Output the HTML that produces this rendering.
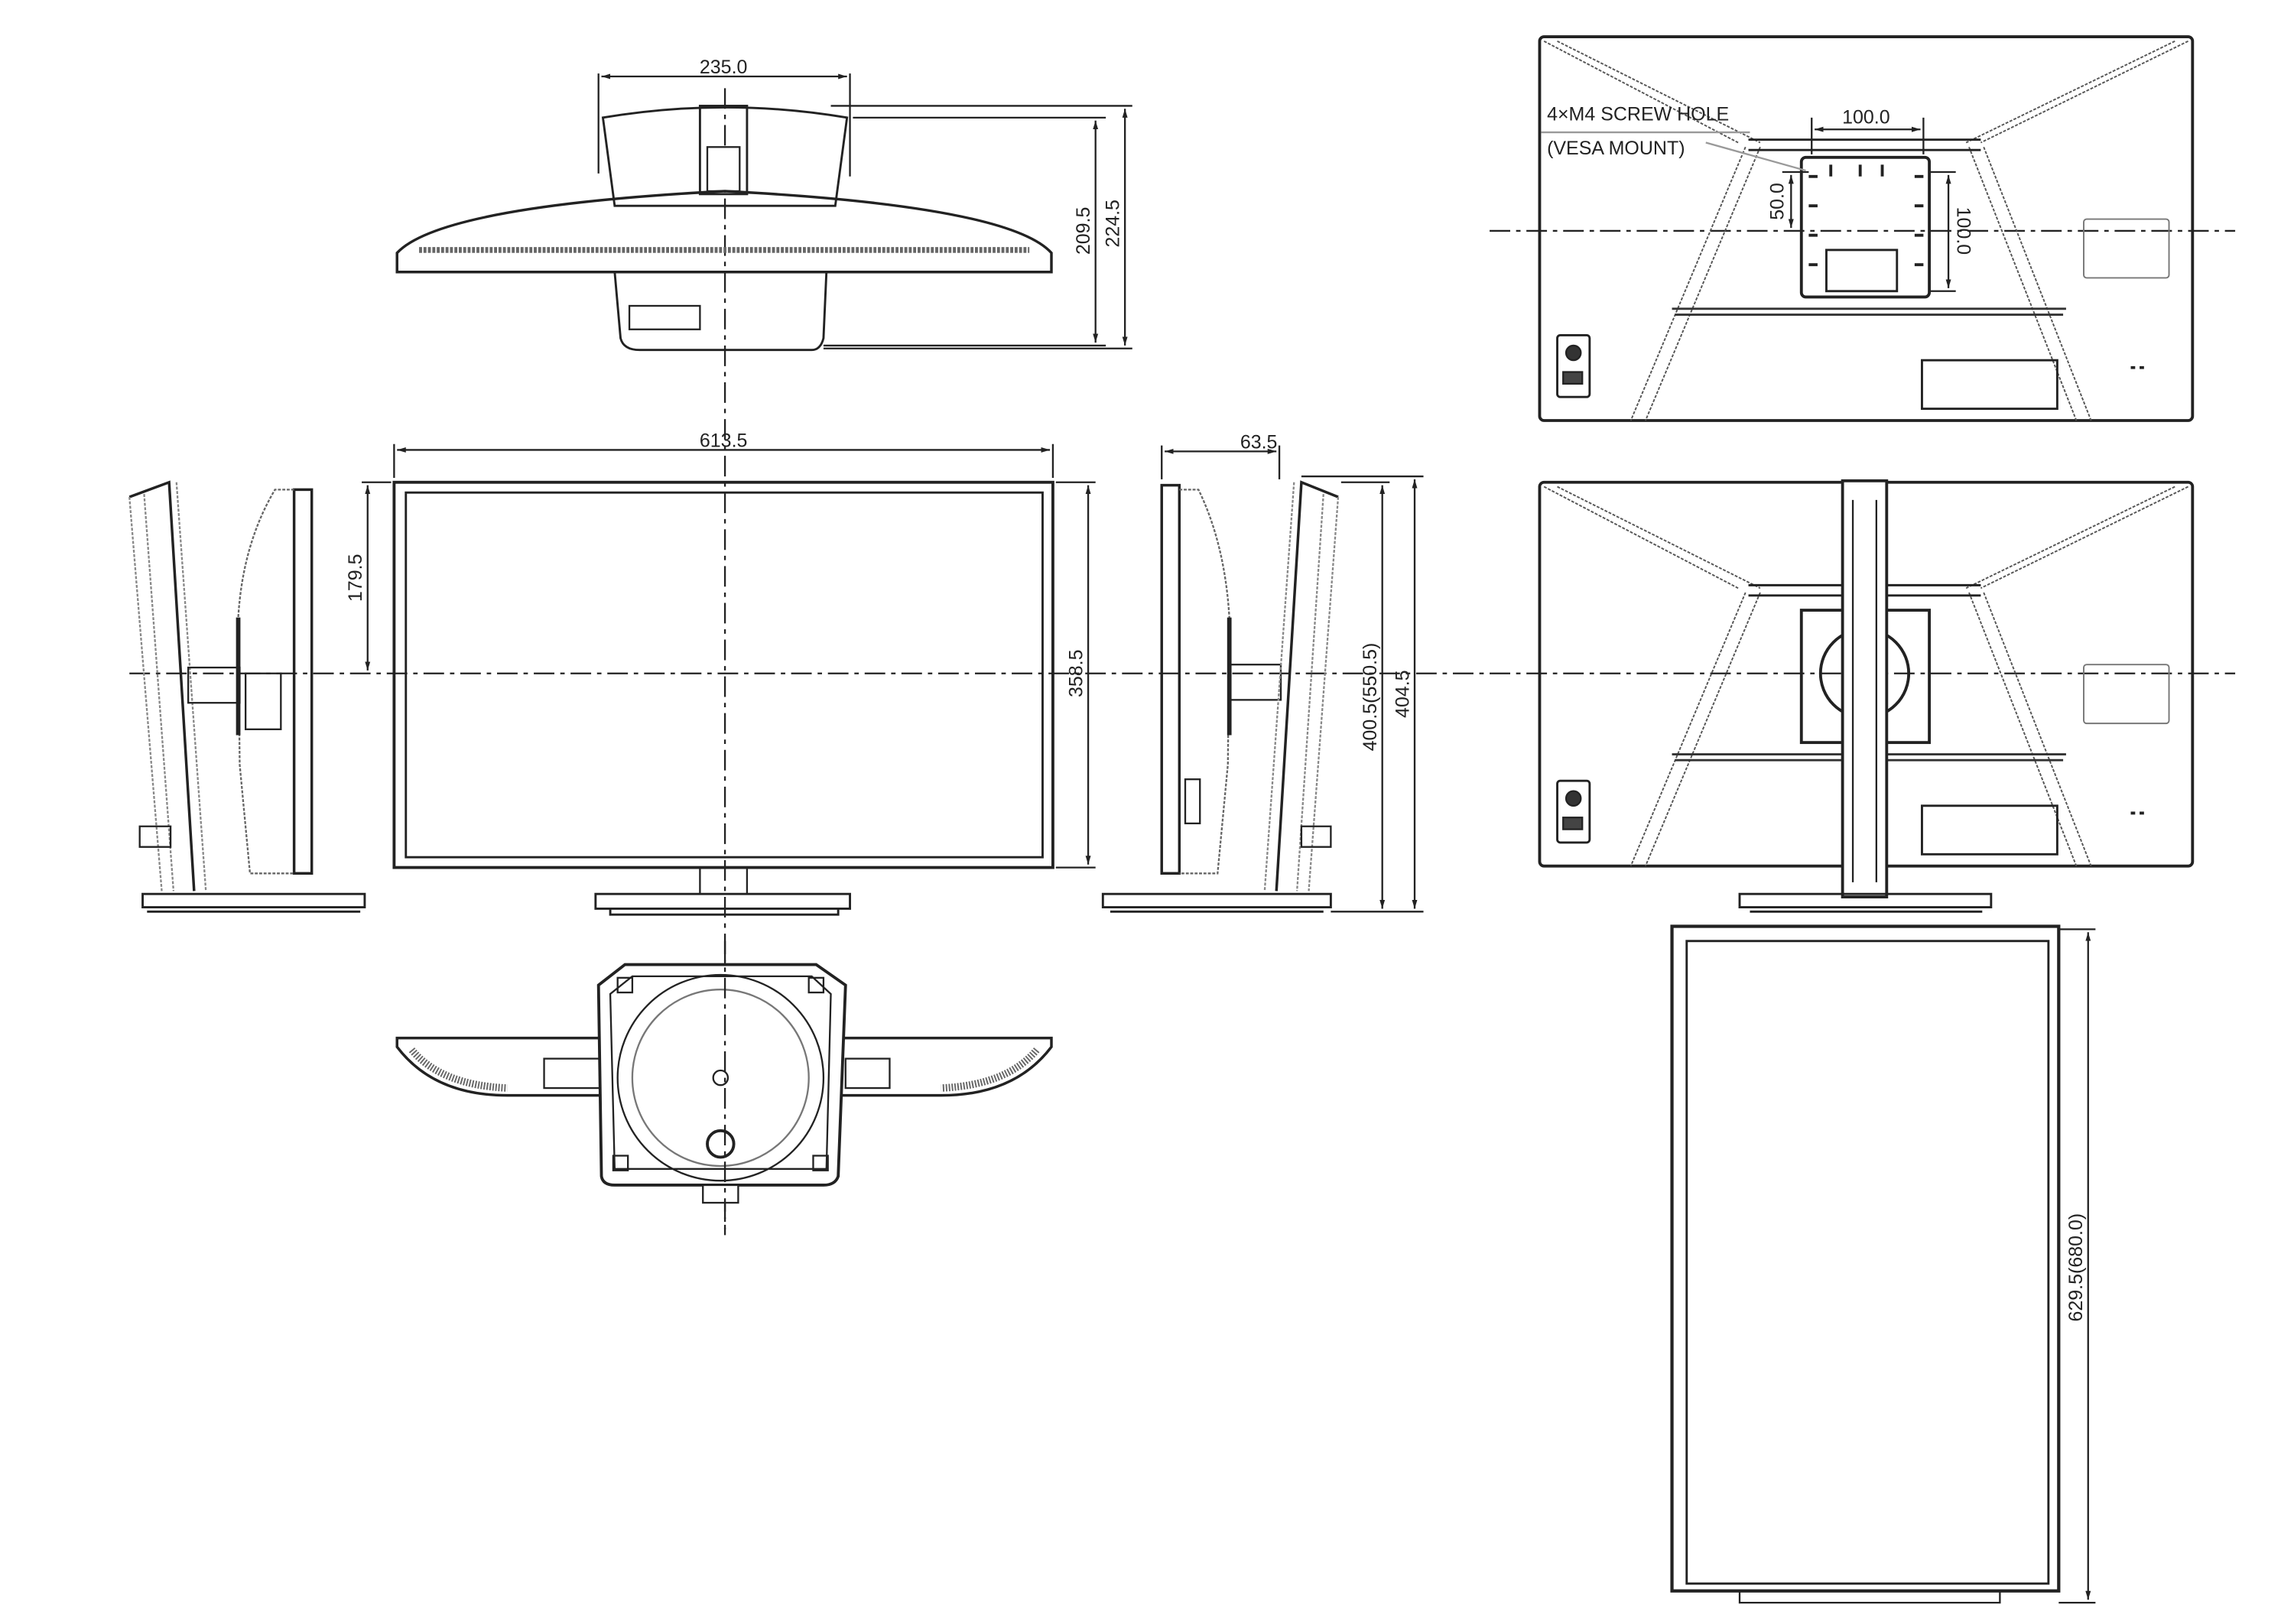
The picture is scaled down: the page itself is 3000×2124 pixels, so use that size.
<!DOCTYPE html>
<html><head><meta charset="utf-8"><style>
html,body{margin:0;padding:0;background:#fff}
svg{display:block}
text{font-family:"Liberation Sans",sans-serif;fill:#222;font-size:13px}
</style></head><body>
<svg width="3000" height="2124" viewBox="0 0 1560 1104.5" preserveAspectRatio="none" xmlns="http://www.w3.org/2000/svg">
<defs>
<marker id="a" viewBox="0 0 10 10" refX="10" refY="5" markerWidth="5" markerHeight="5" orient="auto-start-reverse"><path d="M0,2 L10,5 L0,8z" fill="#222"/></marker>
<g id="back">
 <rect x="0" y="0" width="444" height="261" rx="3" fill="none" stroke="#222" stroke-width="2"/>
 <g fill="none" stroke="#555" stroke-width="1" stroke-dasharray="2,1">
  <path d="M3,3 L135,72 M12,3 L150,72 M441,3 L300,72 M432,3 L290,72"/>
  <path d="M140,75 L62,261 M150,75 L72,261 M302,75 L375,261 M292,75 L365,261"/>
 </g>
 <path d="M142,70 H300 M142,77 H300" stroke="#222" stroke-width="1.5"/>
 <path d="M90,185 H358 M92,189 H356" stroke="#333" stroke-width="1.5"/>
 <rect x="260" y="220" width="92" height="33" fill="none" stroke="#222" stroke-width="1.5"/>
 <rect x="370" y="124" width="58" height="40" rx="2" fill="none" stroke="#777" stroke-width="1"/>
 <rect x="12" y="203" width="22" height="42" rx="2" fill="none" stroke="#222" stroke-width="1.5"/>
 <circle cx="23" cy="215" r="5" fill="#333"/>
 <rect x="16" y="228" width="13" height="8" fill="#444"/>
 <path d="M402,225 h3 M408,225 h3" stroke="#222" stroke-width="2"/>
</g>
</defs>
<g fill="none" stroke="#222" stroke-width="1.2">
<path d="M493,60 V840" stroke-dasharray="14,4,3,4"/>
<path d="M88,458 H1520" stroke-dasharray="14,4,3,4"/>
<path d="M1013,157 H1520" stroke-dasharray="14,4,3,4"/>

<path d="M410,80 Q493,66 576,80 L568,140 H418 Z" stroke-width="1.5"/>
<rect x="476" y="72" width="32" height="60" stroke-width="1.5"/>
<rect x="481" y="100" width="22" height="30" fill="#fff"/>
<path d="M270,172 Q300,140 493,130 Q686,140 715,172 V185 H270 Z" stroke-width="1.8"/>
<path d="M285,170 H700" stroke="#666" stroke-dasharray="2,1" stroke-width="4"/>
<path d="M418,185 L422,230 Q424,238 435,238 H552 Q558,238 560,230 L562,185" stroke-width="1.5"/>
<rect x="428" y="208" width="48" height="16"/>
<path d="M407,50 V118 M578,50 V120"/>
<path d="M409,52 H576" marker-start="url(#a)" marker-end="url(#a)"/>
<path d="M580,80 H752 M565,72 H770 M560,235 H752 M560,237 H770"/>
<path d="M745,82 V233" marker-start="url(#a)" marker-end="url(#a)"/>
<path d="M765,74 V235" marker-start="url(#a)" marker-end="url(#a)"/>

<rect x="268" y="328" width="448" height="262" stroke-width="2"/>
<rect x="276" y="335" width="433" height="248" stroke-width="1.5"/>
<rect x="476" y="590" width="32" height="18"/>
<path d="M405,608 H578 V618 H405 Z M415,618 V622 H570 V618" stroke-width="1.5"/>
<path d="M268,302 V325 M716,302 V325"/>
<path d="M270,306 H714" marker-start="url(#a)" marker-end="url(#a)"/>
<path d="M246,328 H266"/>
<path d="M250,330 V456" marker-start="url(#a)" marker-end="url(#a)"/>
<path d="M718,328 H745 M718,590 H745"/>
<path d="M740,330 V588" marker-start="url(#a)" marker-end="url(#a)"/>

<g stroke-width="1.2">
<path d="M88,338 L115,328 L132,606" stroke-width="1.8"/>
<path d="M88,338 L110,606 M98,336 L118,606 M120,328 L140,606" stroke="#888" stroke-dasharray="2,1"/>
<path d="M95,562 H116 V576 H95 Z"/>
<path d="M200,333 H212 V594 H200 Z M200,333 L200,594" stroke-width="1.8"/>
<path d="M200,333 H187 Q165,370 162,420 L163,520 L170,594 H200" stroke="#666" stroke-dasharray="2,1"/>
<path d="M162,420 V500" stroke-width="3"/>
<rect x="128" y="454" width="35" height="24"/>
<rect x="167" y="458" width="24" height="38"/>
<path d="M97,608 H248 V617 H97 Z M100,620 H245" stroke-width="1.5"/>
</g>

<g stroke-width="1.2">
<path d="M790,330 H802 V594 H790 Z" stroke-width="1.8"/>
<path d="M802,333 H815 Q833,370 836,420 L835,520 L828,594 H802" stroke="#666" stroke-dasharray="2,1"/>
<path d="M836,420 V500" stroke-width="3"/>
<rect x="836" y="452" width="35" height="24"/>
<rect x="806" y="530" width="10" height="30"/>
<path d="M910,338 L885,328 L868,606" stroke-width="1.8"/>
<path d="M910,338 L890,606 M900,336 L882,606 M880,328 L860,606" stroke="#888" stroke-dasharray="2,1"/>
<path d="M885,562 H905 V576 H885 Z"/>
<path d="M750,608 H905 V617 H750 Z M755,620 H900" stroke-width="1.5"/>
<path d="M790,303 V326 M870,303 V326"/>
<path d="M792,307 H868" marker-start="url(#a)" marker-end="url(#a)"/>
<path d="M885,324 H968 M912,328 H945 M905,620 H968"/>
<path d="M940,330 V618" marker-start="url(#a)" marker-end="url(#a)"/>
<path d="M962,326 V618" marker-start="url(#a)" marker-end="url(#a)"/>
</g>

<path d="M270,706 H715 V712 Q690,745 640,745 H345 Q295,745 270,712 Z" stroke-width="1.8"/>
<path d="M280,714 Q300,738 345,740 M705,714 Q685,738 640,740" stroke="#666" stroke-width="5" stroke-dasharray="1,1"/>
<rect x="370" y="720" width="45" height="20"/>
<rect x="575" y="720" width="30" height="20"/>
<path d="M425,656 H555 L575,670 L570,800 Q568,806 560,806 H418 Q410,806 409,800 L407,670 Z" stroke-width="2" fill="#fff"/>
<path d="M430,664 H552 L565,676 L562,795 H418 L415,676 Z"/>
<circle cx="490" cy="733" r="70"/>
<circle cx="490" cy="733" r="60" stroke="#777"/>
<circle cx="490" cy="733" r="5"/>
<circle cx="490" cy="778" r="9" stroke-width="2"/>
<rect x="420" y="665" width="10" height="10"/><rect x="550" y="665" width="10" height="10"/>
<rect x="417" y="786" width="10" height="10"/><rect x="553" y="786" width="10" height="10"/>
<rect x="478" y="806" width="24" height="12" fill="#fff"/>
<path d="M493,640 V840" stroke-dasharray="14,4,3,4"/>

<use href="#back" x="1047" y="25"/>
<use href="#back" x="1047" y="328"/>
<rect x="1225" y="107" width="87" height="95" rx="3" stroke-width="2"/>
<rect x="1242" y="170" width="48" height="28" stroke-width="1.5"/>
<path d="M1230,120 h6 M1230,140 h6 M1230,160 h6 M1230,180 h6 M1302,120 h6 M1302,140 h6 M1302,160 h6 M1302,180 h6 M1245,112 v8 M1265,112 v8 M1280,112 v8" stroke-width="2"/>
<path d="M1232,80 V105 M1308,80 V105"/>
<path d="M1234,88 H1306" marker-start="url(#a)" marker-end="url(#a)"/>
<path d="M1212,117 H1230 M1312,117 H1330 M1312,198 H1330"/>
<path d="M1218,119 V155" marker-start="url(#a)" marker-end="url(#a)"/>
<path d="M1325,119 V196" marker-start="url(#a)" marker-end="url(#a)"/>
<path d="M1048,90 H1190 M1160,97 L1228,116" stroke="#999"/>
<rect x="1225" y="415" width="87" height="90" stroke-width="2"/>
<circle cx="1268" cy="458" r="30" stroke-width="2"/>
<rect x="1253" y="327" width="30" height="283" fill="#fff" stroke-width="2"/>
<path d="M1260,340 V600 M1276,340 V600"/>
<path d="M1183,608 H1354 V617 H1183 Z M1190,620 H1348" stroke-width="1.5"/>

<rect x="1137" y="630" width="263" height="452" stroke-width="2.2"/>
<rect x="1147" y="640" width="246" height="437" stroke-width="1.5"/>
<path d="M1183,1082 H1360 V1090 H1183 Z"/>
<path d="M1400,632 H1425 M1400,1090 H1425"/>
<path d="M1420,634 V1088" marker-start="url(#a)" marker-end="url(#a)"/>
</g>

<text x="492" y="50" text-anchor="middle">235.0</text>
<text transform="translate(741,157) rotate(-90)" text-anchor="middle">209.5</text>
<text transform="translate(761,152) rotate(-90)" text-anchor="middle">224.5</text>
<text x="492" y="304" text-anchor="middle">613.5</text>
<text transform="translate(246,393) rotate(-90)" text-anchor="middle">179.5</text>
<text transform="translate(736,458) rotate(-90)" text-anchor="middle">358.5</text>
<text x="856" y="305" text-anchor="middle">63.5</text>
<text transform="translate(936,474) rotate(-90)" text-anchor="middle">400.5(550.5)</text>
<text transform="translate(958,472) rotate(-90)" text-anchor="middle">404.5</text>
<text x="1052" y="82">4×M4 SCREW HOLE</text>
<text x="1052" y="105">(VESA MOUNT)</text>
<text x="1269" y="84" text-anchor="middle">100.0</text>
<text transform="translate(1213,137) rotate(-90)" text-anchor="middle">50.0</text>
<text transform="translate(1331,157) rotate(90)" text-anchor="middle">100.0</text>
<text transform="translate(1416,862) rotate(-90)" text-anchor="middle">629.5(680.0)</text>
</svg>
</body></html>
